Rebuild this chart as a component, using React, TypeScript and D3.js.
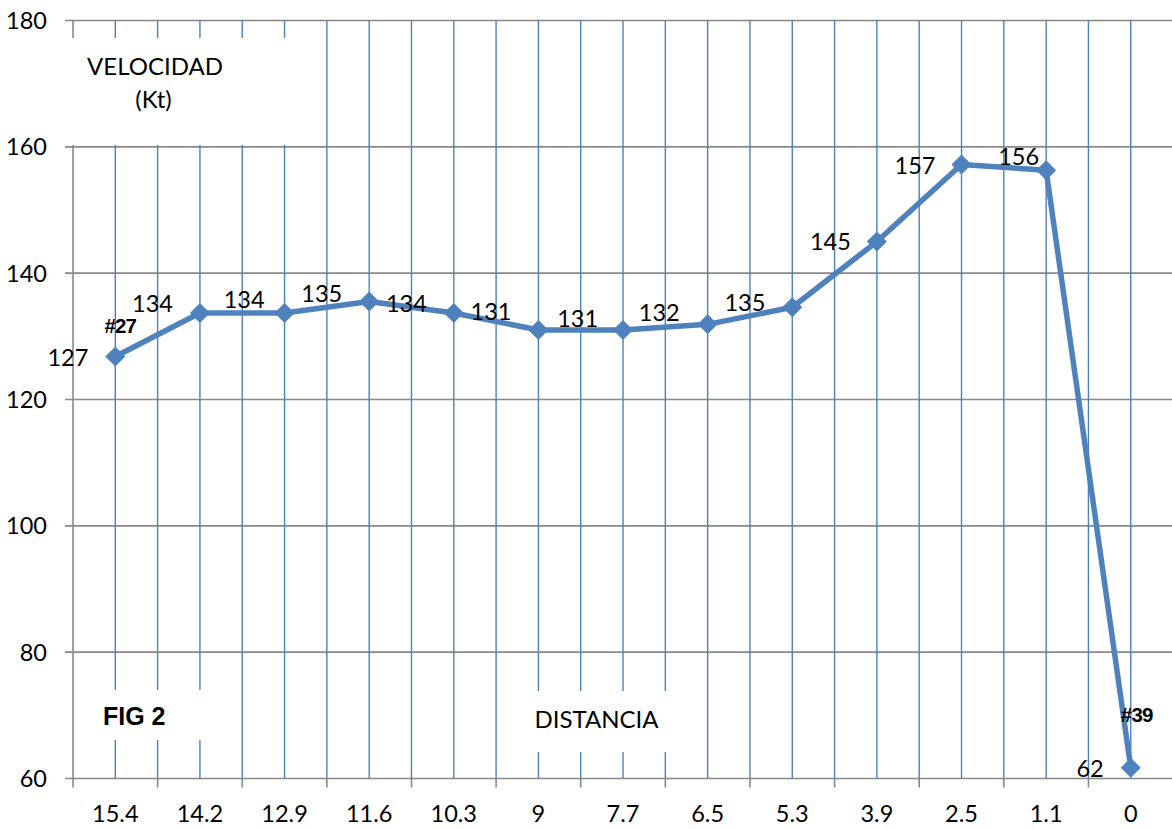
import React from "react";
import * as d3 from "d3";

const categories = ["15.4", "14.2", "12.9", "11.6", "10.3", "9", "7.7", "6.5", "5.3", "3.9", "2.5", "1.1", "0"];
const speeds = [126.8, 133.7, 133.7, 135.5, 133.7, 131.0, 131.0, 131.9, 134.6, 145.0, 157.2, 156.3, 61.7];
const speedLabels = ["127", "134", "134", "135", "134", "131", "131", "132", "135", "145", "157", "156", "62"];
const yTicks = [60, 80, 100, 120, 140, 160, 180];
const pointTags = [
  { index: 0, text: "#27" },
  { index: 12, text: "#39" },
];

// label nudges (style only): [dx to text end, dy to baseline] relative to the point
const labelNudge: [number, number][] = [
  [-27, 9], [-27, -1], [-20, -5], [-27, 0], [-27, -1], [-27, -10], [-25, -3],
  [-28, -3], [-27, 4], [-26, 8], [-26, 9], [-7, -5], [-27, 9],
];
const tagNudge: [number, number][] = [[5, -24], [6, -46]];

const W = 1172;
const H = 829;
const left = 73;
const right = 73 + 13 * 84.62;
const top = 20.5;
const bottom = 778.5;

const BLUE = "#4F81BD";
const GRAY = "#898989";
const SANS = "Lato, 'Open Sans', sans-serif";
const BOLD = "'Liberation Sans', Arial, sans-serif";
const FS = 23.5;

export default function App() {
  const x = d3.scaleBand<string>().domain(categories).range([left, right]).paddingInner(0).paddingOuter(0);
  const y = d3.scaleLinear().domain([60, 180]).range([bottom, top]);
  const bw = x.bandwidth();
  const cx = (c: string) => (x(c) as number) + bw / 2;

  const line = d3
    .line<number>()
    .x((_, i) => cx(categories[i]))
    .y((d) => y(d));

  const vLines: number[] = [];
  categories.forEach((c, i) => {
    if (i > 0) vLines.push(x(c) as number);
    vLines.push(cx(c));
  });

  const diamond = (px: number, py: number, r: number) =>
    `M${px},${py - r}L${px + r},${py}L${px},${py + r}L${px - r},${py}Z`;

  return (
    <svg
      width={W}
      height={H}
      style={{ position: "absolute", left: 0, top: 0, background: "#fff" }}
    >
      {yTicks.map((t) => (
        <line key={"h" + t} x1={65} x2={W} y1={y(t)} y2={y(t)} stroke={GRAY} strokeWidth={1.6} />
      ))}
      {vLines.map((v, i) => (
        <line key={"v" + i} x1={v} x2={v} y1={top} y2={bottom} stroke={BLUE} strokeWidth={1.4} />
      ))}
      <line x1={left} x2={left} y1={top} y2={bottom} stroke={GRAY} strokeWidth={1.6} />
      {categories.map((c) => (
        <line key={"t" + c} x1={x(c) as number} x2={x(c) as number} y1={bottom} y2={bottom + 9} stroke={GRAY} strokeWidth={1.6} />
      ))}

      <rect x={60} y={38} width={245} height={107} fill="#fff" />
      <rect x={82} y={690} width={145} height={50} fill="#fff" />
      <rect x={510} y={691} width={180} height={61} fill="#fff" />

      {yTicks.map((t) => (
        <text key={"yl" + t} x={47} y={y(t) + 8.5} textAnchor="end" fontFamily={SANS} fontSize={FS} fill="#000">
          {t}
        </text>
      ))}
      {categories.map((c) => (
        <text key={"xl" + c} x={cx(c)} y={822} textAnchor="middle" fontFamily={SANS} fontSize={FS} fill="#000">
          {c}
        </text>
      ))}

      <path d={line(speeds) || ""} fill="none" stroke={BLUE} strokeWidth={5.5} strokeLinejoin="round" />
      {speeds.map((v, i) => (
        <path key={"m" + i} d={diamond(cx(categories[i]), y(v), 10)} fill={BLUE} />
      ))}

      {speeds.map((v, i) => (
        <text
          key={"dl" + i}
          x={cx(categories[i]) + labelNudge[i][0]}
          y={y(v) + labelNudge[i][1]}
          textAnchor="end"
          fontFamily={SANS}
          fontSize={FS}
          fill="#000"
        >
          {speedLabels[i]}
        </text>
      ))}
      {pointTags.map((p, k) => (
        <text
          key={"tag" + k}
          x={cx(categories[p.index]) + tagNudge[k][0]}
          y={y(speeds[p.index]) + tagNudge[k][1]}
          textAnchor="middle"
          fontFamily={BOLD}
          fontWeight="bold"
          fontSize={20.5}
          letterSpacing={-0.8}
          fill="#000"
        >
          {p.text}
        </text>
      ))}

      <text x={155} y={75} textAnchor="middle" fontFamily={SANS} fontSize={24} fill="#000">VELOCIDAD</text>
      <text x={153.5} y={108} textAnchor="middle" fontFamily={SANS} fontSize={24} fill="#000">(Kt)</text>
      <text x={103} y={725} fontFamily={BOLD} fontWeight="bold" fontSize={25} fill="#000">FIG 2</text>
      <text x={596.5} y={728} textAnchor="middle" fontFamily={SANS} fontSize={24} fill="#000">DISTANCIA</text>
    </svg>
  );
}
